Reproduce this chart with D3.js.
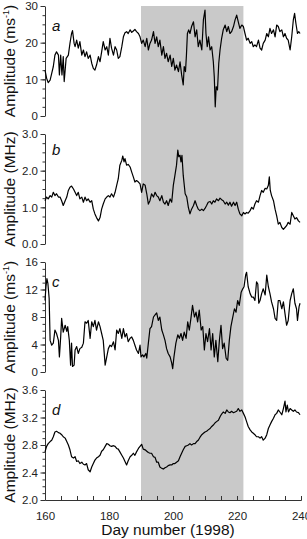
<!DOCTYPE html>
<html>
<head>
<meta charset="utf-8">
<script src="https://cdn.jsdelivr.net/npm/d3@7"></script>
<style>
  body { margin: 0; background: #fff; }
  text { font-family: "Liberation Sans", Arial, sans-serif; }
</style>
</head>
<body>
<div id="chart"></div>
<script>
// values: [day, amplitude]
const windA = [[160.0,12.5],[160.5,10.3],[161.0,9.1],[161.6,9.8],[162.1,11.6],[162.6,13.5],[163.1,16.6],[163.6,17.5],[164.2,16.6],[164.5,11.2],[164.9,16.6],[165.3,11.2],[165.7,16.2],[166.0,9.4],[166.6,15.7],[167.3,16.6],[167.8,19.8],[168.3,22.5],[168.6,23.3],[169.1,19.8],[169.4,18.9],[169.9,20.7],[170.4,18.5],[170.9,20.3],[171.5,16.6],[172.0,18.0],[172.5,16.2],[173.0,17.5],[173.5,15.7],[174.1,16.6],[174.6,14.4],[175.1,13.0],[175.6,12.5],[176.1,13.9],[176.7,16.2],[177.2,14.8],[177.7,17.5],[178.2,20.3],[178.8,18.0],[179.3,18.9],[179.8,16.6],[180.3,21.2],[180.8,18.5],[181.4,16.6],[181.9,18.9],[182.4,18.0],[182.9,15.7],[183.4,16.2],[184.0,18.9],[184.5,21.6],[185.0,22.7],[185.5,23.0],[186.0,22.5],[186.6,23.5],[187.1,22.8],[187.6,23.2],[188.1,23.6],[188.6,23.0],[189.2,22.5],[189.7,21.6],[190.2,19.8],[190.7,20.7],[191.3,18.9],[191.8,21.2],[192.3,18.0],[192.8,19.8],[193.3,20.7],[193.9,23.0],[194.4,19.8],[194.9,21.6],[195.4,18.9],[195.9,20.7],[196.5,16.6],[197.0,18.9],[197.5,15.7],[198.0,17.1],[198.5,14.8],[199.1,16.6],[199.6,13.5],[200.1,15.7],[200.6,12.5],[201.1,13.9],[201.7,12.1],[202.2,14.8],[202.7,11.2],[203.2,8.5],[203.5,13.5],[203.9,12.1],[204.2,16.6],[204.5,22.5],[204.9,23.5],[205.3,22.5],[205.8,24.4],[206.4,25.7],[206.9,21.6],[207.4,23.5],[207.9,18.9],[208.4,20.7],[209.0,18.0],[209.5,26.2],[210.0,28.9],[210.3,22.5],[210.7,18.9],[211.1,21.6],[211.6,18.0],[212.1,18.9],[212.6,14.8],[212.9,10.7],[213.2,2.5],[213.5,8.0],[213.9,7.1],[214.3,14.4],[214.7,18.0],[215.2,21.2],[215.7,23.5],[216.3,24.8],[216.8,23.0],[217.3,24.4],[217.8,22.5],[218.3,23.0],[218.9,24.4],[219.4,26.2],[219.9,27.5],[220.4,25.7],[220.9,23.9],[221.5,24.8],[222.0,24.4],[222.5,22.5],[223.0,20.7],[223.5,21.2],[224.1,19.8],[224.6,20.3],[225.1,18.9],[225.6,19.4],[226.1,18.9],[226.7,20.7],[227.2,18.5],[227.7,18.0],[228.2,19.8],[228.8,20.7],[229.3,22.5],[229.8,21.6],[230.3,23.9],[230.8,22.5],[231.4,23.5],[231.9,21.6],[232.4,24.8],[232.9,24.4],[233.4,23.0],[234.0,23.5],[234.5,21.6],[235.0,22.5],[235.5,21.2],[236.0,20.7],[236.6,18.0],[237.1,21.6],[237.6,26.2],[238.0,28.0],[238.4,25.3],[238.9,22.5],[239.3,23.0],[239.7,22.5]];

const freqB = [[160.0,1.18],[160.5,1.28],[161.0,1.23],[161.6,1.32],[162.1,1.28],[162.6,1.41],[163.1,1.32],[163.6,1.37],[164.2,1.28],[164.7,1.28],[165.2,1.18],[165.7,1.05],[166.3,1.18],[166.8,1.28],[167.3,1.46],[167.8,1.55],[168.3,1.58],[168.9,1.50],[169.4,1.41],[169.9,1.32],[170.4,1.41],[170.9,1.23],[171.5,1.28],[172.0,1.14],[172.5,1.28],[173.0,1.18],[173.5,1.23],[174.1,1.14],[174.6,1.18],[175.1,0.95],[175.6,0.82],[176.1,0.72],[176.7,0.63],[177.2,0.72],[177.7,0.95],[178.2,1.09],[178.8,1.23],[179.3,1.28],[179.8,1.32],[180.3,1.28],[180.8,1.37],[181.4,1.28],[181.9,1.41],[182.4,1.60],[182.9,1.78],[183.4,2.15],[184.0,2.28],[184.3,2.40],[184.7,2.24],[185.0,2.33],[185.5,2.15],[186.0,2.17],[186.6,2.10],[187.1,1.96],[187.6,1.83],[188.1,1.69],[188.6,1.73],[189.2,1.69],[189.7,1.64],[190.2,1.41],[190.7,1.64],[191.3,1.60],[191.8,1.37],[192.3,1.09],[192.8,1.18],[193.3,1.37],[193.9,1.28],[194.4,1.41],[194.9,1.32],[195.4,1.28],[195.9,1.18],[196.5,1.32],[197.0,1.14],[197.5,1.09],[198.0,1.18],[198.5,1.05],[199.1,1.23],[199.6,1.14],[200.1,1.60],[200.6,1.87],[201.1,2.15],[201.5,2.56],[201.8,2.38],[202.2,2.42],[202.5,2.24],[202.8,2.42],[203.2,1.87],[203.8,1.37],[204.3,1.28],[204.8,1.00],[205.3,0.82],[205.8,0.95],[206.4,1.05],[206.9,1.18],[207.4,1.05],[207.9,0.95],[208.4,0.91],[209.0,0.95],[209.5,0.91],[210.0,0.97],[210.5,1.05],[211.0,1.14],[211.6,1.16],[212.1,1.09],[212.6,1.18],[213.1,1.14],[213.6,1.23],[214.2,1.18],[214.7,1.25],[215.2,1.21],[215.7,1.18],[216.3,1.09],[216.8,1.14],[217.3,1.06],[217.8,1.14],[218.3,1.03],[218.9,1.14],[219.4,1.05],[219.9,1.14],[220.4,0.95],[220.9,0.82],[221.5,0.77],[222.0,0.86],[222.5,0.82],[223.0,0.86],[223.5,0.84],[224.1,0.91],[224.6,1.00],[225.1,0.95],[225.6,1.09],[226.1,1.18],[226.7,1.14],[227.2,1.32],[227.7,1.46],[228.2,1.41],[228.8,1.52],[229.3,1.50],[229.8,1.60],[230.1,1.83],[230.4,1.46],[230.8,1.32],[231.4,1.18],[231.9,0.95],[232.4,0.77],[232.9,0.54],[233.4,0.59],[234.0,0.45],[234.5,0.40],[235.0,0.45],[235.5,0.50],[236.0,0.59],[236.6,0.54],[237.1,0.86],[237.6,0.77],[238.1,0.68],[238.6,0.72],[239.2,0.63],[239.7,0.59]];

const windC = [[160.0,10.4],[160.3,12.4],[160.6,13.6],[160.9,12.9],[161.3,10.7],[161.6,4.6],[162.1,3.9],[162.6,4.2],[163.1,6.1],[163.6,5.6],[164.2,4.6],[164.5,2.2],[164.9,5.1],[165.2,7.8],[165.7,5.8],[166.3,6.8],[166.8,5.9],[167.1,6.6],[167.6,4.6],[168.0,1.0],[168.3,4.2],[168.6,0.8],[169.1,1.0],[169.4,3.2],[169.9,3.7],[170.4,2.7],[170.9,3.4],[171.5,3.6],[172.0,4.2],[172.5,7.3],[173.0,7.1],[173.5,7.5],[174.1,4.9],[174.6,7.3],[175.1,6.6],[175.6,7.5],[176.1,6.1],[176.7,7.3],[177.2,6.6],[177.7,5.6],[178.2,4.6],[178.8,1.0],[179.3,2.2],[179.8,3.4],[180.3,3.9],[180.8,3.7],[181.4,4.4],[181.9,3.2],[182.4,6.1],[182.9,5.6],[183.4,6.3],[184.0,4.9],[184.5,6.3],[185.0,5.1],[185.5,5.6],[186.0,4.4],[186.6,4.9],[187.1,5.1],[187.6,4.6],[188.1,3.9],[188.6,3.2],[189.2,2.7],[189.7,3.9],[190.0,2.2],[190.5,2.5],[190.9,2.2],[191.5,2.7],[191.8,2.0],[192.3,4.2],[192.8,6.3],[193.3,6.6],[193.9,8.0],[194.4,8.3],[194.9,8.6],[195.4,7.5],[195.9,8.0],[196.5,6.1],[197.0,5.4],[197.5,4.6],[198.0,3.4],[198.5,2.7],[199.1,2.2],[199.6,1.3],[199.9,0.5],[200.3,2.2],[200.9,4.2],[201.5,5.4],[202.0,4.9],[202.5,5.6],[203.0,4.6],[203.5,5.8],[204.1,4.9],[204.6,7.3],[205.1,6.1],[205.6,7.8],[206.1,9.7],[206.7,8.0],[207.2,8.7],[207.7,7.3],[208.2,9.0],[208.8,6.1],[209.3,6.6],[209.8,3.2],[210.3,5.6],[210.8,4.4],[211.4,6.3],[211.9,3.2],[212.4,5.6],[212.9,2.2],[213.4,4.6],[214.0,1.5],[214.5,4.6],[215.0,6.8],[215.5,3.4],[216.0,4.2],[216.6,2.0],[217.1,1.7],[217.6,4.6],[218.1,6.6],[218.6,7.8],[219.2,9.2],[219.7,8.7],[220.2,10.4],[220.7,9.7],[221.3,11.6],[221.8,12.1],[222.2,12.4],[222.7,14.1],[223.0,14.5],[223.5,12.4],[224.1,11.4],[224.6,10.9],[225.1,10.9],[225.6,10.4],[226.1,13.1],[226.5,12.8],[226.8,10.0],[227.2,10.4],[227.7,11.4],[228.2,12.1],[228.8,11.2],[229.3,14.1],[229.8,12.4],[230.3,11.4],[230.8,10.2],[231.4,9.2],[231.9,7.8],[232.4,7.5],[232.9,10.4],[233.4,10.4],[234.0,9.2],[234.5,10.2],[235.0,8.5],[235.5,6.8],[236.0,7.5],[236.6,10.4],[237.1,11.4],[237.6,12.1],[238.1,10.0],[238.6,9.2],[238.9,7.5],[239.4,9.5],[239.7,10.0]];

const freqD = [[160.0,2.70],[160.5,2.78],[161.0,2.82],[161.6,2.85],[162.1,2.87],[162.6,2.92],[163.1,2.99],[163.6,3.00],[164.2,2.98],[164.7,2.97],[165.2,2.95],[165.7,2.92],[166.3,2.90],[166.8,2.85],[167.3,2.80],[167.8,2.73],[168.3,2.63],[168.9,2.61],[169.4,2.63],[169.9,2.56],[170.4,2.57],[170.9,2.53],[171.5,2.55],[172.0,2.52],[172.5,2.51],[173.0,2.53],[173.5,2.44],[174.1,2.41],[174.6,2.48],[175.1,2.53],[175.6,2.58],[176.1,2.61],[176.7,2.63],[177.2,2.65],[177.7,2.71],[178.2,2.73],[178.8,2.78],[179.3,2.82],[179.8,2.81],[180.3,2.79],[180.8,2.78],[181.4,2.79],[181.9,2.78],[182.4,2.75],[182.9,2.74],[183.4,2.70],[184.0,2.65],[184.5,2.61],[185.0,2.56],[185.5,2.51],[186.0,2.57],[186.6,2.63],[187.1,2.65],[187.6,2.68],[188.1,2.65],[188.6,2.70],[189.2,2.75],[189.7,2.78],[190.2,2.81],[190.7,2.74],[191.3,2.73],[191.8,2.71],[192.3,2.69],[192.8,2.68],[193.3,2.68],[193.9,2.63],[194.4,2.62],[194.9,2.55],[195.4,2.55],[195.9,2.48],[196.5,2.46],[197.0,2.45],[197.5,2.47],[198.0,2.48],[198.5,2.50],[199.1,2.51],[199.6,2.51],[200.1,2.53],[200.6,2.53],[201.1,2.55],[201.7,2.57],[202.2,2.63],[202.7,2.68],[203.2,2.73],[203.8,2.78],[204.3,2.79],[204.8,2.80],[205.3,2.82],[205.8,2.80],[206.4,2.82],[206.9,2.82],[207.4,2.85],[207.9,2.87],[208.4,2.91],[209.0,2.95],[209.5,2.97],[210.0,2.99],[210.5,3.00],[211.0,3.02],[211.6,3.04],[212.1,3.07],[212.6,3.09],[213.1,3.12],[213.6,3.14],[214.2,3.16],[214.7,3.21],[215.2,3.25],[215.7,3.28],[216.3,3.26],[216.8,3.31],[217.3,3.28],[217.8,3.27],[218.3,3.29],[218.9,3.27],[219.4,3.28],[219.9,3.29],[220.4,3.33],[220.9,3.29],[221.5,3.31],[222.0,3.26],[222.5,3.21],[223.0,3.14],[223.5,3.07],[224.1,3.02],[224.6,2.99],[225.1,2.97],[225.6,2.95],[226.1,2.92],[226.7,2.92],[227.2,2.90],[227.7,2.92],[228.2,2.87],[228.8,2.90],[229.3,2.95],[229.8,3.04],[230.3,3.09],[230.8,3.14],[231.4,3.19],[231.9,3.24],[232.4,3.26],[232.9,3.31],[233.4,3.28],[234.0,3.24],[234.5,3.33],[235.0,3.44],[235.3,3.28],[235.7,3.38],[236.1,3.28],[236.6,3.33],[237.1,3.31],[237.6,3.29],[238.1,3.31],[238.6,3.28],[239.2,3.27],[239.7,3.24]];

const dayTicks = [160, 180, 200, 220, 240];
const shadeDays = [190, 222];
const panelLetters = ["a", "b", "c", "d"];
const yDomains = [[0, 30], [0, 3], [0, 16], [2, 3.6]];
const yTicks = [[0, 10, 20, 30], [0, 1, 2, 3], [0, 4, 8, 12, 16], [2.0, 2.4, 2.8, 3.2, 3.6]];
const yUnits = ["ms", "MHz", "ms", "MHz"];
const series = [windA, freqB, windC, freqD];

const width = 307, height = 539;
const margin = { left: 45, right: 6, top: 6 };
const panelH = 110, panelGap = 18;
const innerW = width - margin.left - margin.right;

const svg = d3.select("#chart").append("svg")
    .attr("width", width)
    .attr("height", height);

const xScale = d3.scaleLinear().domain([160, 240]).range([margin.left, margin.left + innerW]);
const bottom = margin.top + 4 * panelH + 3 * panelGap;

// shaded interval behind everything
svg.append("rect")
    .attr("x", xScale(shadeDays[0]))
    .attr("y", margin.top)
    .attr("width", xScale(shadeDays[1]) - xScale(shadeDays[0]))
    .attr("height", bottom - margin.top)
    .attr("fill", "#c9c9c9");

const line = d3.line();

series.forEach((data, i) => {
    const top = margin.top + i * (panelH + panelGap);
    const [lo, hi] = yDomains[i];
    const yScale = d3.scaleLinear().domain([lo, hi]).range([top + panelH, top]);
    const major = yTicks[i][1] - yTicks[i][0];
    const decimals = i % 2 === 1 ? 1 : 0;

    const g = svg.append("g");

    // minor ticks
    const minors = d3.range(lo, hi + 1e-9, major / 4);
    g.append("g")
        .attr("transform", `translate(${margin.left},0)`)
        .call(d3.axisLeft(yScale).tickValues(minors).tickSize(2.5).tickFormat("").tickSizeOuter(0))
        .call(a => a.select(".domain").remove());

    const ax = g.append("g")
        .attr("class", "y-axis")
        .attr("transform", `translate(${margin.left},0)`)
        .call(d3.axisLeft(yScale).tickValues(yTicks[i]).tickSize(4.5).tickSizeOuter(0)
            .tickPadding(2.5).tickFormat(d3.format(`.${decimals}f`)));
    ax.selectAll("text").style("font-size", "11.5px").attr("fill", "#222");
    g.selectAll("line, path").attr("stroke", "#333");

    // trace
    g.append("path")
        .datum(data)
        .attr("fill", "none")
        .attr("stroke", "#000")
        .attr("stroke-width", 1.2)
        .attr("stroke-linejoin", "round")
        .attr("d", line.x(d => xScale(d[0])).y(d => yScale(d[1])));

    // panel letter
    g.append("text")
        .attr("x", 52)
        .attr("y", top + (i === 1 ? 21 : 25))
        .style("font-size", "15px")
        .style("font-style", "italic")
        .attr("fill", "#111")
        .text(panelLetters[i]);

    // y label
    const lab = g.append("text")
        .attr("transform", `translate(15,${top + panelH / 2}) rotate(-90)`)
        .attr("text-anchor", "middle")
        .style("font-size", "15.5px")
        .attr("fill", "#111");
    if (yUnits[i] === "ms") {
        lab.append("tspan").text("Amplitude (ms");
        lab.append("tspan").attr("dy", -6).style("font-size", "9px").text("-1");
        lab.append("tspan").attr("dy", 6).text(")");
    } else {
        lab.text(`Amplitude (${yUnits[i]})`);
    }

    if (i === 3) {
        const minorX = d3.range(160, 241, 5);
        svg.append("g")
            .attr("transform", `translate(0,${top + panelH})`)
            .call(d3.axisBottom(xScale).tickValues(minorX).tickSize(-4).tickFormat("").tickSizeOuter(0))
            .call(a => a.selectAll("line, path").attr("stroke", "#333"));
        const xa = svg.append("g")
            .attr("class", "x-axis")
            .attr("transform", `translate(0,${top + panelH})`)
            .call(d3.axisBottom(xScale).tickValues(dayTicks).tickSize(-4).tickSizeOuter(0).tickPadding(12));
        xa.selectAll("line, path").attr("stroke", "#333");
        xa.selectAll("text").style("font-size", "11.5px").attr("fill", "#222");

        svg.append("text")
            .attr("x", (xScale(160) + xScale(240)) / 2 - 5)
            .attr("y", top + panelH + 35)
            .attr("text-anchor", "middle")
            .style("font-size", "15.5px")
            .attr("fill", "#111")
            .text("Day number (1998)");
    }
});
</script>
</body>
</html>
